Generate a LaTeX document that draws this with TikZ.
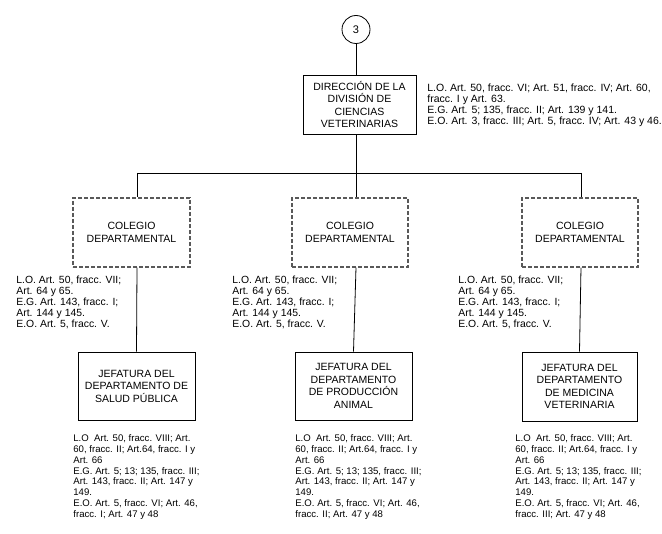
\documentclass[tikz,border=0pt]{standalone}
\usepackage{fontspec}
\setsansfont{Liberation Sans}
\usetikzlibrary{positioning}

\begin{document}
\begin{tikzpicture} [x=1pt,y=-1pt,line width=0.8pt,
    solid box/.style={rectangle,draw,align=center,inner sep=2pt,
      font=\sffamily\fontsize{10.5}{12.5}\selectfont},
    dashed box/.style={rectangle,draw=black!65,dash pattern=on 4pt off 2pt,
      line width=1.1pt,align=center,inner sep=2pt,
      font=\sffamily\fontsize{10.5}{12.5}\selectfont},
    legal note/.style={anchor=north west,inner sep=0pt,align=left,
      font=\sffamily\fontsize{10.4}{10.8}\selectfont},
    small note/.style={legal note,font=\sffamily\fontsize{9.6}{10.9}\selectfont}]

  \useasboundingbox (0,0) rectangle (662,534);

  % the nodes of the chart
  \node [circle,draw,minimum size=28pt,inner sep=0pt,
    font=\sffamily\fontsize{11}{12}\selectfont] (three) at (356,29.5) {3};
  \node [solid box,minimum width=113pt,minimum height=59pt] (direccion) at (359.5,104.5)
    {DIRECCIÓN DE LA\\ DIVISIÓN DE\\ CIENCIAS\\ VETERINARIAS};

  \node [dashed box,minimum width=117pt,minimum height=69pt] (colegio_l) at (131.5,232.5)
    {COLEGIO\\ DEPARTAMENTAL};
  \node [dashed box,minimum width=116pt,minimum height=69pt] (colegio_m) at (350,232.5)
    {COLEGIO\\ DEPARTAMENTAL};
  \node [dashed box,minimum width=116pt,minimum height=69pt] (colegio_r) at (580,232.5)
    {COLEGIO\\ DEPARTAMENTAL};

  \node [solid box,minimum width=117pt,minimum height=68pt] (salud) at (136.5,386)
    {JEFATURA DEL\\ DEPARTAMENTO DE\\ SALUD PÚBLICA};
  \node [solid box,minimum width=117pt,minimum height=68pt] (produccion) at (353.5,386)
    {JEFATURA DEL\\ DEPARTAMENTO\\ DE PRODUCCIÓN\\ ANIMAL};
  \node [solid box,minimum width=115pt,minimum height=69pt] (medicina) at (579.5,386.5)
    {JEFATURA DEL\\ DEPARTAMENTO\\ DE MEDICINA\\ VETERINARIA};

  % legal references
  \node [legal note,font=\sffamily\fontsize{10.5}{10.9}\selectfont] (direccion_txt) at (427,83.5)
    {L.O. Art. 50, fracc. VI; Art. 51, fracc. IV; Art. 60,\\ fracc. I y Art. 63.\\
     E.G. Art. 5; 135, fracc. II; Art. 139 y 141.\\
     E.O. Art. 3, fracc. III; Art. 5, fracc. IV; Art. 43 y 46.};

  \node [legal note] (colegio_l_txt) at (16,276)
    {L.O. Art. 50, fracc. VII;\\ Art. 64 y 65.\\ E.G. Art. 143, fracc. I;\\ Art. 144 y 145.\\ E.O. Art. 5, fracc. V.};
  \node [legal note] (colegio_m_txt) at (232,276)
    {L.O. Art. 50, fracc. VII;\\ Art. 64 y 65.\\ E.G. Art. 143, fracc. I;\\ Art. 144 y 145.\\ E.O. Art. 5, fracc. V.};
  \node [legal note] (colegio_r_txt) at (458,276)
    {L.O. Art. 50, fracc. VII;\\ Art. 64 y 65.\\ E.G. Art. 143, fracc. I;\\ Art. 144 y 145.\\ E.O. Art. 5, fracc. V.};

  \node [small note] (salud_txt) at (73,434)
    {L.O\ \ Art. 50, fracc. VIII; Art.\\ 60, fracc. II; Art.64, fracc. I y\\ Art. 66\\
     E.G. Art. 5; 13; 135, fracc. III;\\ Art. 143, fracc. II; Art. 147 y\\ 149.\\
     E.O. Art. 5, fracc. VI; Art. 46,\\ fracc. I; Art. 47 y 48};
  \node [small note] (produccion_txt) at (295,434)
    {L.O\ \ Art. 50, fracc. VIII; Art.\\ 60, fracc. II; Art.64, fracc. I y\\ Art. 66\\
     E.G. Art. 5; 13; 135, fracc. III;\\ Art. 143, fracc. II; Art. 147 y\\ 149.\\
     E.O. Art. 5, fracc. VI; Art. 46,\\ fracc. II; Art. 47 y 48};
  \node [small note] (medicina_txt) at (515,434)
    {L.O\ \ Art. 50, fracc. VIII; Art.\\ 60, fracc. II; Art.64, fracc. I y\\ Art. 66\\
     E.G. Art. 5; 13; 135, fracc. III;\\ Art. 143, fracc. II; Art. 147 y\\ 149.\\
     E.O. Art. 5, fracc. VI; Art. 46,\\ fracc. III; Art. 47 y 48};

  % connectors between the nodes
  \coordinate (bar) at (356,173);
  \coordinate (drop_l) at (137,173);
  \coordinate (drop_r) at (581,173);

  \draw (three.south) -- (three.south |- direccion.north);
  \draw (three |- direccion.south) -- (bar);
  \draw (drop_l) -- (drop_r);
  \draw (drop_l) -- (drop_l |- colegio_l.north);
  \draw (bar) -- (bar |- colegio_m.north);
  \draw (drop_r) -- (drop_r |- colegio_r.north);
  \draw (colegio_l.south -| drop_l) -- (salud.north);
  \draw (colegio_m.south -| bar) -- (produccion.north);
  \draw (colegio_r.south -| drop_r) -- (medicina.north);

\end{tikzpicture}
\end{document}
